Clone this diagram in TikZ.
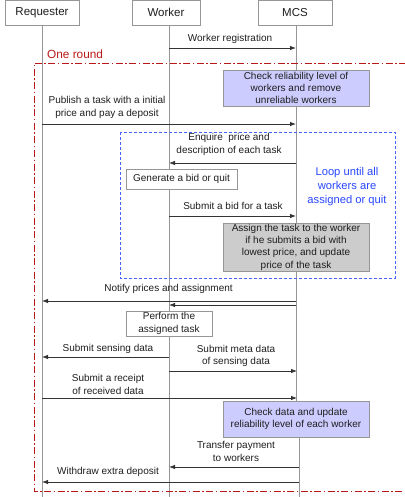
\documentclass[tikz,border=0pt]{standalone}
\usepackage{fontspec}
\setmainfont{Liberation Sans}
\usetikzlibrary{arrows.meta}
\definecolor{txt}{RGB}{30,30,30}
\definecolor{lav}{RGB}{204,204,255}
\definecolor{graybox}{RGB}{204,204,204}
\definecolor{roundred}{RGB}{185,25,25}
\definecolor{loopblue}{RGB}{40,70,255}
\definecolor{lifegray}{RGB}{150,150,150}
\begin{document}
\begin{tikzpicture}[x=1pt,y=-1pt,
  hdr/.style={draw=lifegray, fill=white, line width=0.6pt, inner sep=0pt, text=txt, font=\fontsize{11.5}{13}\selectfont},
  life/.style={draw=lifegray, line width=0.8pt},
  msg/.style={draw=black!80, line width=0.8pt, -{Latex[length=6pt,width=4.5pt]}},
  lbl/.style={font=\fontsize{10}{12.5}\selectfont, align=center, text=txt, inner sep=0pt},
  act/.style={draw=lifegray, line width=0.6pt, font=\fontsize{10}{12.3}\selectfont, align=center, inner sep=0pt, text=txt},
]
\useasboundingbox (0,0) rectangle (404,497);
% headers
\node[hdr, minimum width=74pt, minimum height=25pt] (req) at (42,12.8) {Requester};
\node[hdr, minimum width=68pt, minimum height=25pt] (wrk) at (166,12.8) {Worker};
\node[hdr, minimum width=74pt, minimum height=25pt] (mcs) at (295,12.8) {MCS};
% lifelines
\coordinate (reqend) at (42,497);
\coordinate (wrkend) at (169,497);
\coordinate (mcsend) at (299,497);
\draw[life] (42,25.3) -- (reqend);
\draw[life] (169,25.3) -- (wrkend);
\draw[life] (296,25.3) -- (296,419) -- (299,419) -- (mcsend);
% one round frame
\draw[roundred, line width=0.8pt, dash pattern=on 7pt off 2.5pt on 1.5pt off 2.5pt] (406,63) -- (34,63) -- (34,491) -- (406,491);
\node[anchor=west, text=roundred, font=\fontsize{11.8}{13}\selectfont, inner sep=0pt] (round) at (47,54) {One round};
% loop frame
\draw[loopblue!85, line width=0.8pt, dash pattern=on 3pt off 2pt] (120,132) rectangle (395,278);
\node[align=center, text=loopblue, font=\fontsize{11.2}{14}\selectfont, inner sep=0pt] (loop) at (347,187) {Loop until all\\workers are\\assigned or quit};
% activity boxes
\node[act, fill=lav, minimum width=146pt, minimum height=36pt] (check1) at (296,88) {Check reliability level of\\workers and remove\\unreliable workers};
\node[act, fill=white, minimum width=111pt, minimum height=20pt] (gen) at (181.5,179) {Generate a bid or quit};
\node[act, fill=graybox, minimum width=146pt, minimum height=48pt] (assign) at (296,247) {Assign the task to the worker\\if he submits a bid with\\lowest price, and update\\price of the task};
\node[act, fill=white, minimum width=86pt, minimum height=25pt] (perf) at (169,323.5) {Perform the\\assigned task};
\node[act, fill=lav, minimum width=146pt, minimum height=36pt] (check2) at (296,419) {Check data and update\\reliability level of each worker};
% message endpoints
\coordinate (w1) at (169,48);  \coordinate (m1) at (296,48);
\coordinate (r2) at (42,124);  \coordinate (m2) at (296,124);
\coordinate (m3) at (296,163); \coordinate (w3) at (169,163);
\coordinate (w4) at (169,216); \coordinate (m4) at (296,216);
\coordinate (m5) at (296,301); \coordinate (r5) at (42,301);
\coordinate (m6) at (296,305); \coordinate (w6) at (169,305);
\coordinate (w7) at (169,357); \coordinate (r7) at (42,357);
\coordinate (w8) at (169,371); \coordinate (m8) at (297,371);
\coordinate (r9) at (42,398);  \coordinate (m9) at (297,398);
\coordinate (m10) at (299,467); \coordinate (w10) at (169,467);
\coordinate (m11) at (299,482); \coordinate (r11) at (42,482);
% messages
\draw[msg] (w1) -- (m1);
\draw[msg] (r2) -- (m2);
\draw[msg] (m3) -- (w3);
\draw[msg] (w4) -- (m4);
\draw[msg] (m5) -- (r5);
\draw[msg] (m6) -- (w6);
\draw[msg] (w7) -- (r7);
\draw[msg] (w8) -- (m8);
\draw[msg] (r9) -- (m9);
\draw[msg] (m10) -- (w10);
\draw[msg] (m11) -- (r11);
% labels
\node[lbl] (l1) at (230,39) {Worker registration};
\node[lbl] (l2) at (107,107.5) {Publish a task with a initial\\price and pay a deposit};
\node[lbl] (l3) at (229,144.5) {Enquire\ \ price and\\description of each task};
\node[lbl] (l4) at (233,206) {Submit a bid for a task};
\node[lbl] (l5) at (168.5,289) {Notify prices and assignment};
\node[lbl] (l7) at (108,349) {Submit sensing data};
\node[lbl] (l8) at (236,356) {Submit meta data\\of sensing data};
\node[lbl] (l9) at (108,384.5) {Submit a receipt\\of received data};
\node[lbl] (l10) at (236,451.5) {Transfer payment\\to workers};
\node[lbl] (l11) at (108,472) {Withdraw extra deposit};
\end{tikzpicture}
\end{document}
